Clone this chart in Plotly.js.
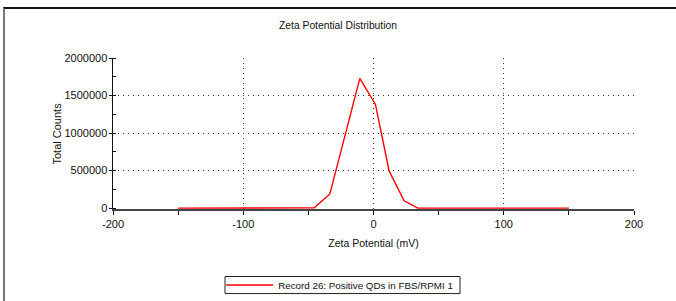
<!DOCTYPE html>
<html>
<head>
<meta charset="utf-8">
<script src="https://cdn.plot.ly/plotly-3.0.1.min.js"></script>
<style>
  html, body { margin: 0; padding: 0; background: #fff; }
  #wrap { position: relative; width: 676px; height: 301px; overflow: hidden; }
  #chart { position: absolute; left: 0; top: 0; width: 676px; height: 301px; }
  #frame { position: absolute; left: 3px; top: 7px; width: 700px; height: 320px;
           border-top: 2px solid #111; border-left: 2px solid #777; pointer-events: none; box-sizing: border-box; }
</style>
</head>
<body>
<div id="wrap">
  <div id="chart"></div>
  <div id="frame"></div>
</div>
<script>
const zetaPotential = [-150, -50, -45.5, -33.5, -10.5, 1.5, 12, 23.5, 34, 150];
const totalCounts   = [0, 0, 3000, 188600, 1729000, 1381000, 495600, 96500, 0, 0];
const seriesName = 'Record 26: Positive QDs in FBS/RPMI 1';
const chartTitle = 'Zeta Potential Distribution';
const xTitle = 'Zeta Potential (mV)';
const yTitle = 'Total Counts';
const xTickVals = [-200, -100, 0, 100, 200];
const xTickText = ['-200', '-100', '0', '100', '200'];
const yTickVals = [0, 500000, 1000000, 1500000, 2000000];
const yTickText = ['0', '500000', '1000000', '1500000', '2000000'];

const fam = 'Liberation Sans, Arial, sans-serif';
const ink = '#111';

const trace = {
  x: zetaPotential,
  y: totalCounts,
  type: 'scatter',
  mode: 'lines',
  name: seriesName,
  line: { color: '#ff0000', width: 1.4 },
  showlegend: true
};

const layout = {
  width: 676,
  height: 301,
  margin: { l: 113, r: 42, t: 58, b: 92, autoexpand: false },
  paper_bgcolor: 'rgba(0,0,0,0)',
  plot_bgcolor: '#fff',
  font: { family: fam, size: 11, color: ink },
  title: { text: chartTitle, x: 0.5, xanchor: 'center', y: 0.914, yanchor: 'middle', yref: 'container',
           font: { family: fam, size: 10.3, color: ink } },
  xaxis: {
    range: [-200, 200],
    tickvals: xTickVals, ticktext: xTickText,
    showgrid: true, gridcolor: '#333', griddash: '1px,4px', gridwidth: 1,
    zeroline: false,
    showline: true, linecolor: '#444', linewidth: 2,
    layer: 'below traces',
    ticks: 'outside', ticklen: 4, tickcolor: ink, tickwidth: 1,
    minor: { dtick: 50, tick0: 0, ticks: 'outside', ticklen: 4, tickcolor: ink, showgrid: false },
    tickfont: { family: fam, size: 11, color: ink },
    title: { text: xTitle, standoff: 10, font: { family: fam, size: 10.5, color: ink } },
    fixedrange: true
  },
  yaxis: {
    range: [-12000, 2000000],
    tickvals: yTickVals, ticktext: yTickText,
    showgrid: true, gridcolor: '#333', griddash: '1px,4px', gridwidth: 1,
    zeroline: false,
    showline: true, linecolor: ink, linewidth: 1.5,
    layer: 'below traces',
    ticks: 'outside', ticklen: 3, tickcolor: ink,
    ticklabelstandoff: -1,
    minor: { dtick: 250000, tick0: 0, ticks: 'inside', ticklen: 3, tickcolor: ink, showgrid: false },
    tickfont: { family: fam, size: 11, color: ink },
    fixedrange: true
  },
  annotations: [{
    text: yTitle, textangle: -90,
    xref: 'paper', yref: 'paper', x: -0.1094, y: 0.5, xanchor: 'center', yanchor: 'middle',
    showarrow: false, font: { family: fam, size: 11, color: ink }
  }],
  shapes: [{
    type: 'rect', xref: 'paper', yref: 'paper',
    x0: 0.215, x1: 0.666, y0: -0.447, y1: -0.56,
    line: { color: '#222', width: 1 }, fillcolor: 'rgba(0,0,0,0)', layer: 'above'
  }],
  showlegend: true,
  legend: {
    x: 0.435, xanchor: 'center',
    y: -0.503, yanchor: 'middle',
    bgcolor: 'rgba(0,0,0,0)', borderwidth: 0,
    itemwidth: 47,
    font: { family: fam, size: 9.8, color: ink }
  }
};

Plotly.newPlot('chart', [trace], layout, { displayModeBar: false, staticPlot: true });
</script>
</body>
</html>
